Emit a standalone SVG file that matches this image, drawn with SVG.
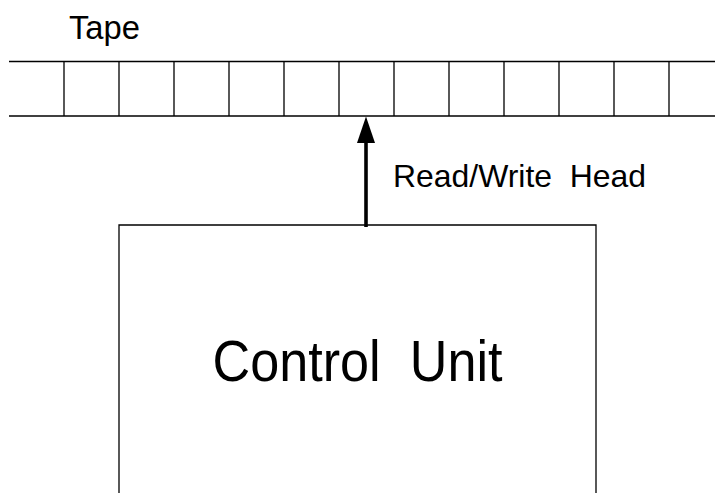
<svg xmlns="http://www.w3.org/2000/svg" width="715" height="493" viewBox="0 0 715 493">
  <style>
    .ln { stroke: #000; stroke-width: 1.3; fill: none; }
    .lbl { font-family: "Liberation Sans", Arial, sans-serif; fill: #000; }
  </style>
  <rect width="715" height="493" fill="#fff"/>

  <g id="tape">
    <text class="lbl" x="69" y="39" font-size="34" textLength="71" lengthAdjust="spacingAndGlyphs">Tape</text>
    <line class="ln" x1="9" y1="61.5" x2="715" y2="61.5"/>
    <line class="ln" x1="9" y1="116" x2="715" y2="116"/>
    <!-- tape cell dividers, 55px apart -->
    <path class="ln" d="M64,61.5V116 M119,61.5V116 M174,61.5V116 M229,61.5V116 M284,61.5V116 M339,61.5V116 M394,61.5V116 M449,61.5V116 M504,61.5V116 M559,61.5V116 M614,61.5V116 M669,61.5V116"/>
  </g>

  <g id="control-unit">
    <path class="ln" d="M119,493V225H596V493"/>
    <text class="lbl" x="357.5" y="381" font-size="57" text-anchor="middle" textLength="290" lengthAdjust="spacingAndGlyphs">Control&#160; Unit</text>
  </g>

  <g id="connectors">
    <line x1="366" y1="227" x2="366" y2="142" stroke="#000" stroke-width="3.6"/>
    <path d="M357,143 L366,116.5 L375,143 Z" fill="#000"/>
    <text class="lbl" x="393" y="187" font-size="32" textLength="253" lengthAdjust="spacingAndGlyphs">Read/Write&#160; Head</text>
  </g>
</svg>
